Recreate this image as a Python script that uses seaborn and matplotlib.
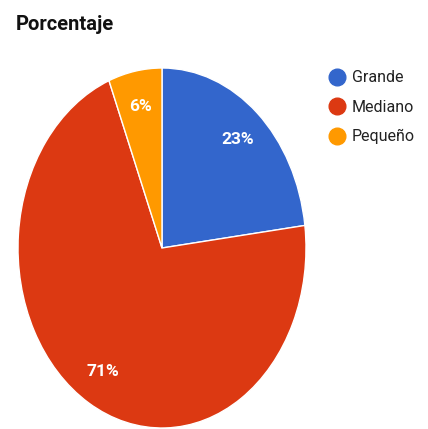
import matplotlib
matplotlib.use('Agg')
import matplotlib.pyplot as plt
from matplotlib.lines import Line2D
import seaborn as sns

# datos del grafico
categorias = ['Grande', 'Mediano', 'Pequeño']
porcentajes = [23, 71, 6]
colores = ['#3366cc', '#dc3912', '#ff9900']

sns.set_theme(style='white')
plt.rcParams['font.family'] = ['Roboto', 'DejaVu Sans']

fig = plt.figure(figsize=(4.28, 4.29), dpi=100)
# el pie ocupa una zona mas alta que ancha (imagen estirada)
ax = fig.add_axes([18 / 428, 1 / 429, 288 / 428, 360 / 429])

paleta = sns.color_palette(colores)
wedges, textos, autotextos = ax.pie(
    porcentajes, colors=paleta, startangle=90, counterclock=False,
    autopct='%1.0f%%', pctdistance=0.8,
    wedgeprops=dict(edgecolor='white', linewidth=1),
    textprops=dict(color='white', fontsize=12.5, fontweight='bold'))
ax.set_aspect('auto')
ax.set_xlim(-1, 1)
ax.set_ylim(-1, 1)

# titulo
fig.text(16 / 428, 1 - 24 / 429, 'Porcentaje', fontsize=14.5,
         fontweight='bold', color='#111111', va='center', ha='left')

# leyenda con circulos
handles = [Line2D([0], [0], marker='o', linestyle='', markersize=12,
                  markerfacecolor=c, markeredgecolor=c) for c in paleta]
leg = fig.legend(handles, categorias, loc='upper left',
                 bbox_to_anchor=(311 / 428, 1 - 56 / 429), frameon=False,
                 fontsize=11.5, labelspacing=0.9, handletextpad=0.15,
                 handlelength=1.5)
for t in leg.get_texts():
    t.set_color('#222222')

fig.savefig('out.png', dpi=100)
